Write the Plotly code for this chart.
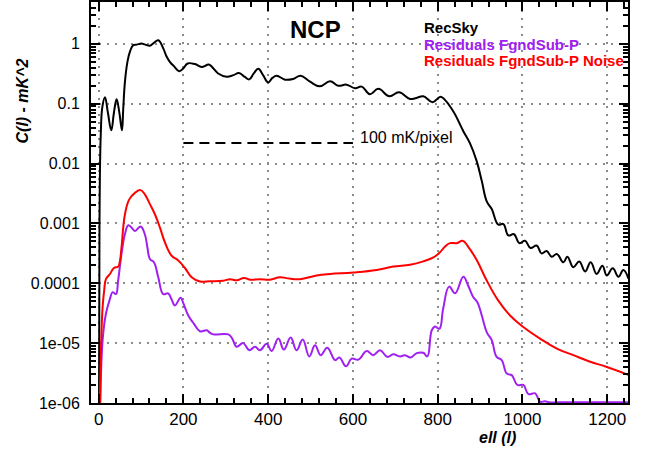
import plotly.graph_objects as go

# ---------------- data ----------------
rec_ell = [0, 2, 5, 9, 14.9, 22, 29.8, 36, 42.4, 49, 55, 58, 62, 68, 73.9, 81.7, 90, 101, 110, 121,
           131, 140.7, 152.5, 160, 168, 178, 190, 200, 210, 227, 244.6, 260, 272, 282, 302, 318,
           331, 345, 355.5, 366, 376.7, 388, 400, 410, 420, 439.7, 459, 476.7, 498.7, 522, 546,
           565.5, 585, 605, 620.7, 640, 660, 686, 708.7, 734.7, 750, 766, 788, 805.5, 815, 837,
           860.5, 876, 892, 904, 915.7, 927.5, 943, 955, 966.7, 980, 992.7, 1006, 1019, 1033.6,
           1045, 1057, 1069, 1081, 1096.6, 1106, 1120, 1134, 1147.7, 1161, 1175, 1188.6, 1199,
           1213, 1226.4, 1238, 1250]
rec_cl = [1e-9, 1e-3, 0.03, 0.09, 0.128, 0.07, 0.036, 0.07, 0.119, 0.07, 0.036, 0.08, 0.23, 0.5,
          0.74, 0.95, 0.97, 1.01, 0.97, 0.93, 1.05, 1.15, 0.84, 0.62, 0.50, 0.42, 0.35, 0.39, 0.47,
          0.46, 0.41, 0.45, 0.38, 0.32, 0.283, 0.30, 0.326, 0.28, 0.255, 0.32, 0.385, 0.3, 0.227,
          0.27, 0.294, 0.252, 0.259, 0.294, 0.233, 0.195, 0.237, 0.2, 0.208, 0.181, 0.193, 0.144,
          0.177, 0.133, 0.155, 0.12, 0.125, 0.133, 0.106, 0.13, 0.12, 0.074, 0.0347, 0.022, 0.011,
          0.0051, 0.00234, 0.00174, 9.55e-4, 9.77e-4, 6.3e-4, 6.6e-4, 4.68e-4, 5.13e-4, 3.89e-4,
          4.27e-4, 3.16e-4, 3.47e-4, 2.77e-4, 3.09e-4, 2.24e-4, 2.77e-4, 1.85e-4, 2.32e-4,
          1.58e-4, 2.24e-4, 1.43e-4, 1.97e-4, 1.35e-4, 1.78e-4, 1.29e-4, 1.66e-4, 1.2e-4]

res_ell = [0, 4, 9.4, 17.2, 26.7, 33, 40.8, 46, 54, 62, 70, 78, 85.7, 99, 109, 115, 121, 130.5,
           140.7, 152.5, 164, 172, 180, 193.5, 200, 211.5, 225, 239, 255, 262, 270.5, 306, 315,
           325.7, 341, 355.5, 369, 380.7, 396.5, 408, 424, 437, 453, 467, 481.5, 497, 510.5, 524,
           539.5, 557.7, 568, 583.7, 597, 612.7, 632.5, 648, 664, 681, 695, 711, 723, 736, 750.5,
           766, 775.5, 786, 793.7, 804, 813, 827, 841, 860.5, 872, 884, 893.6, 904, 915.7, 927.5,
           939, 951, 963, 974.7, 988, 1002, 1014, 1030, 1041.5, 1053, 1062, 1100, 1150, 1200, 1250]
res_cl = [1e-8, 1e-6, 1.12e-5, 3.1e-5, 5.5e-5, 7.1e-5, 6.6e-5, 1.11e-4, 3.1e-4, 6.6e-4, 9.3e-4,
          8.5e-4, 7.5e-4, 8.9e-4, 6.6e-4, 4e-4, 2.54e-4, 2.24e-4, 1.26e-4, 6.6e-5, 6.76e-5, 5.4e-5,
          4.27e-5, 5.75e-5, 4.6e-5, 2.9e-5, 2.1e-5, 1.58e-5, 1.64e-5, 1.5e-5, 1.4e-5, 1.4e-5,
          1.2e-5, 8.7e-6, 1.0e-5, 7.6e-6, 8.7e-6, 7.6e-6, 9.8e-6, 7.4e-6, 1.19e-5, 7.8e-6, 1.24e-5,
          7.6e-6, 1.15e-5, 6.0e-6, 9.2e-6, 6.3e-6, 8.4e-6, 5.2e-6, 5.75e-6, 4.1e-6, 5.5e-6, 5.3e-6,
          7.4e-6, 6.3e-6, 7.6e-6, 5.9e-6, 6.5e-6, 6.0e-6, 6.3e-6, 5.75e-6, 6.8e-6, 6.9e-6, 6.0e-6,
          1.64e-5, 1.9e-5, 1.74e-5, 3.8e-5, 8.8e-5, 6.8e-5, 1.29e-4, 9.1e-5, 5.85e-5, 4.83e-5,
          2.9e-5, 1.53e-5, 1.12e-5, 5.9e-6, 5.2e-6, 3.1e-6, 2.92e-6, 2.0e-6, 2.0e-6, 1.41e-6,
          1.45e-6, 1.05e-6, 1.07e-6, 1.03e-6, 1.03e-6, 1.03e-6, 1.03e-6, 1.03e-6]

noise_ell = [0, 3, 6, 9.4, 13, 17.2, 26.7, 36, 46, 50, 54, 62, 72, 85.7, 99, 109, 121, 133, 144.7,
             156.5, 172, 188, 203.7, 219.5, 239, 262.7, 294, 310, 325.7, 343, 357, 380.7, 404,
             428, 450, 475, 514.5, 546, 601, 656, 695, 734.7, 766, 790, 805.5, 817, 829, 845, 859,
             872, 892, 915.7, 943, 970.7, 1002, 1041.5, 1081, 1120, 1159.6, 1199, 1250]
noise_cl = [1e-8, 1e-6, 1e-5, 4e-5, 7.5e-5, 1.17e-4, 1.43e-4, 1.8e-4, 1.9e-4, 2.3e-4, 4e-4,
            1.41e-3, 2.5e-3, 3.24e-3, 3.6e-3, 3.05e-3, 2.1e-3, 1.41e-3, 8.5e-4, 4.8e-4, 2.9e-4,
            2.4e-4, 1.8e-4, 1.26e-4, 1.07e-4, 1.08e-4, 1.1e-4, 1.17e-4, 1.12e-4, 1.23e-4, 1.15e-4,
            1.17e-4, 1.15e-4, 1.26e-4, 1.2e-4, 1.17e-4, 1.35e-4, 1.43e-4, 1.51e-4, 1.66e-4, 1.9e-4,
            2.04e-4, 2.32e-4, 2.7e-4, 3.3e-4, 4.07e-4, 4.68e-4, 4.68e-4, 5.13e-4, 4.07e-4, 2.45e-4,
            1.11e-4, 5.13e-5, 2.9e-5, 1.86e-5, 1.19e-5, 8.1e-6, 6.3e-6, 4.9e-6, 4.0e-6, 2.95e-6]

level_ell = [200, 600]
level_cl = [0.022, 0.022]
level_label = "100 mK/pixel"

series_names = ["RecSky", "Residuals FgndSub-P", "Residuals FgndSub-P Noise"]
series_colors = ["black", "#A020F0", "#FF0000"]

ytick_vals = [1e-6, 1e-5, 1e-4, 1e-3, 1e-2, 1e-1, 1]
ytick_text = ["1e-06", "1e-05", "0.0001", "0.001", "0.01", "0.1", "1"]
xtick_vals = [0, 200, 400, 600, 800, 1000, 1200]

FONT = "Liberation Sans, Arial, Helvetica, sans-serif"

fig = go.Figure()
for xs, ys, col, name in [(rec_ell, rec_cl, series_colors[0], series_names[0]),
                          (res_ell, res_cl, series_colors[1], series_names[1]),
                          (noise_ell, noise_cl, series_colors[2], series_names[2])]:
    fig.add_trace(go.Scatter(x=xs, y=ys, mode="lines", name=name,
                             line=dict(color=col, width=2, shape="spline", smoothing=1.2)))

fig.add_trace(go.Scatter(x=level_ell, y=level_cl, mode="lines",
                         line=dict(color="black", width=2, dash="10px,6px")))

grid = dict(showgrid=True, gridcolor="#8a8a8a", gridwidth=1.5, griddash="2px,6px")

fig.update_xaxes(range=[-18, 1249], tickmode="array", tickvals=xtick_vals,
                 ticks="inside", ticklen=9, tickwidth=1.5, tickcolor="black",
                 minor=dict(dtick=40, tick0=0, ticks="inside", ticklen=5, tickwidth=1.5,
                            tickcolor="black", showgrid=False),
                 showline=True, linewidth=2, linecolor="black", mirror="ticks",
                 zeroline=False, tickfont=dict(family=FONT, size=17, color="black"),
                 ticklabelstandoff=0, **grid)
fig.update_yaxes(type="log", range=[-6, 0.699], tickmode="array", tickvals=ytick_vals,
                 ticktext=ytick_text, ticks="inside", ticklen=9, tickwidth=1.5, tickcolor="black",
                 minor=dict(dtick="D1", ticks="inside", ticklen=5, tickwidth=1.5,
                            tickcolor="black", showgrid=False),
                 showline=True, linewidth=2, linecolor="black", mirror="ticks",
                 zeroline=False, tickfont=dict(family=FONT, size=16, color="black"),
                 ticklabelstandoff=6, **grid)

annotations = [
    dict(text="<b>NCP</b>", x=315, y=28, xref="paper", yref="paper", showarrow=False,
         font=dict(family=FONT, size=24, color="black")),
    dict(text="<b><i>C(l) - mK^2</i></b>", x=23, y=100, textangle=-90, showarrow=False,
         font=dict(family=FONT, size=16, color="black")),
    dict(text="<b><i>ell (l)</i></b>", x=497, y=438, showarrow=False,
         font=dict(family=FONT, size=16, color="black")),
]
for i, (nm, col) in enumerate(zip(series_names, series_colors)):
    annotations.append(dict(text="<b>%s</b>" % nm, x=422, y=26 + 16.5 * i, xanchor="left",
                            showarrow=False, font=dict(family=FONT, size=15, color=col)))
annotations.append(dict(text=level_label, x=358, y=136, xanchor="left", showarrow=False,
                        font=dict(family=FONT, size=16, color="black")))

# convert pixel-placed annotations to paper coordinates
W, H = 654, 456
ML, MR, MT, MB = 91, 26, 0, 53
pw, ph = W - ML - MR, H - MT - MB
for a in annotations:
    px, py = a["x"], a["y"]
    a["x"] = (px - ML) / pw
    a["y"] = 1 - (py - MT) / ph
    a["xref"] = "paper"
    a["yref"] = "paper"
    a.setdefault("yanchor", "middle")
    a.setdefault("xanchor", "center")

fig.update_layout(width=W, height=H, margin=dict(l=ML, r=MR, t=MT, b=MB),
                  plot_bgcolor="white", paper_bgcolor="white", showlegend=False,
                  annotations=annotations, font=dict(family=FONT))
fig.write_html("out.html")
